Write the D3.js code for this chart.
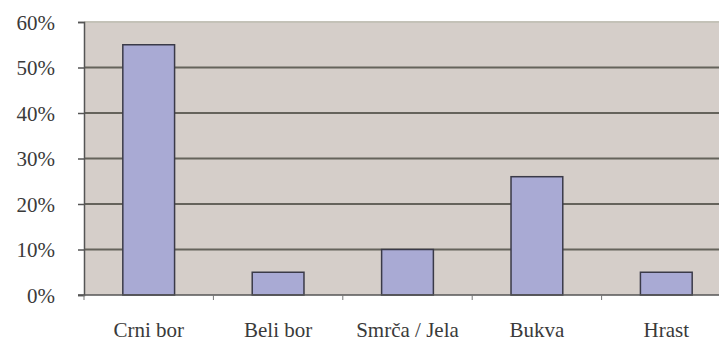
<!DOCTYPE html>
<html>
<head>
<meta charset="utf-8">
<script src="https://cdn.jsdelivr.net/npm/d3@7"></script>
</head>
<body style="margin:0; background:#fff">
<script>
// Share of tree species
const categories = ["Crni bor", "Beli bor", "Smrča / Jela", "Bukva", "Hrast"];
const shares = [55, 5, 10, 26, 5];
const yTicks = [0, 10, 20, 30, 40, 50, 60];

const fontName = "Liberation Serif";
const width = 719, height = 341;
const margin = { top: 22, right: -12, bottom: 46, left: 84 };

const svg = d3.select("body").append("svg")
  .attr("width", width)
  .attr("height", height)
  .attr("font-family", fontName)
  .style("display", "block")
  .style("font-family", `"${fontName}"`, "important");

const x = d3.scaleBand()
  .domain(categories)
  .range([margin.left, width - margin.right])
  .paddingInner(0.6)
  .paddingOuter(0.3);

const y = d3.scaleLinear()
  .domain([0, 60])
  .range([height - margin.bottom, margin.top]);

const bandStep = x.step();
const plotLeft = margin.left;
const plotRight = width - margin.right;

// plot background
svg.append("rect")
  .attr("x", plotLeft)
  .attr("y", y(60))
  .attr("width", plotRight - plotLeft)
  .attr("height", y(0) - y(60))
  .attr("fill", "#d5cec9");

// horizontal gridlines
svg.append("g")
  .selectAll("line")
  .data(yTicks.filter(d => d > 0))
  .join("line")
  .attr("x1", plotLeft)
  .attr("x2", plotRight)
  .attr("y1", d => y(d))
  .attr("y2", d => y(d))
  .attr("stroke", d => d === 60 ? "#c4c2b8" : "#65635b")
  .attr("stroke-width", 2);

// bars
svg.append("g")
  .selectAll("rect")
  .data(categories)
  .join("rect")
  .attr("x", d => x(d))
  .attr("y", (d, i) => y(shares[i]))
  .attr("width", x.bandwidth())
  .attr("height", (d, i) => y(0) - y(shares[i]))
  .attr("fill", "#a9aad4")
  .attr("stroke", "#3a3a48")
  .attr("stroke-width", 1.5);

// y axis
const yAxis = d3.axisLeft(y)
  .tickValues(yTicks)
  .tickSize(6)
  .tickFormat(d => d + "%");

const gy = svg.append("g")
  .attr("transform", `translate(${plotLeft},0)`)
  .call(yAxis)
  .attr("font-family", fontName);
gy.select(".domain").attr("stroke", "#555").attr("stroke-width", 1.5);
gy.selectAll(".tick line").attr("stroke", "#555").attr("stroke-width", 1.5);
gy.selectAll(".tick text")
  .attr("x", -29)
  .attr("dy", "0.34em")
  .attr("fill", "#3a3a3a")
  .attr("font-family", fontName)
  .style("font-family", `"${fontName}"`, "important")
  .style("font-size", "21px");

// x axis
const gx = svg.append("g")
  .attr("transform", `translate(0,${y(0)})`);
gx.append("line")
  .attr("x1", plotLeft - 6)
  .attr("x2", plotRight)
  .attr("y1", 0)
  .attr("y2", 0)
  .attr("stroke", "#555")
  .attr("stroke-width", 1.5);

// category separators
const bounds = d3.range(categories.length + 1).map(i => plotLeft + i * bandStep);
gx.selectAll(".sep")
  .data(bounds)
  .join("line")
  .attr("class", "sep")
  .attr("x1", d => d)
  .attr("x2", d => d)
  .attr("y1", 0)
  .attr("y2", 5)
  .attr("stroke", "#777")
  .attr("stroke-width", 1);

gx.selectAll(".lbl")
  .data(categories)
  .join("text")
  .attr("class", "lbl")
  .attr("x", d => x(d) + x.bandwidth() / 2)
  .attr("y", 42)
  .attr("text-anchor", "middle")
  .attr("fill", "#3a3a3a")
  .attr("font-family", fontName)
  .style("font-family", `"${fontName}"`, "important")
  .style("font-size", "21px")
  .text(d => d);
</script>
</body>
</html>
